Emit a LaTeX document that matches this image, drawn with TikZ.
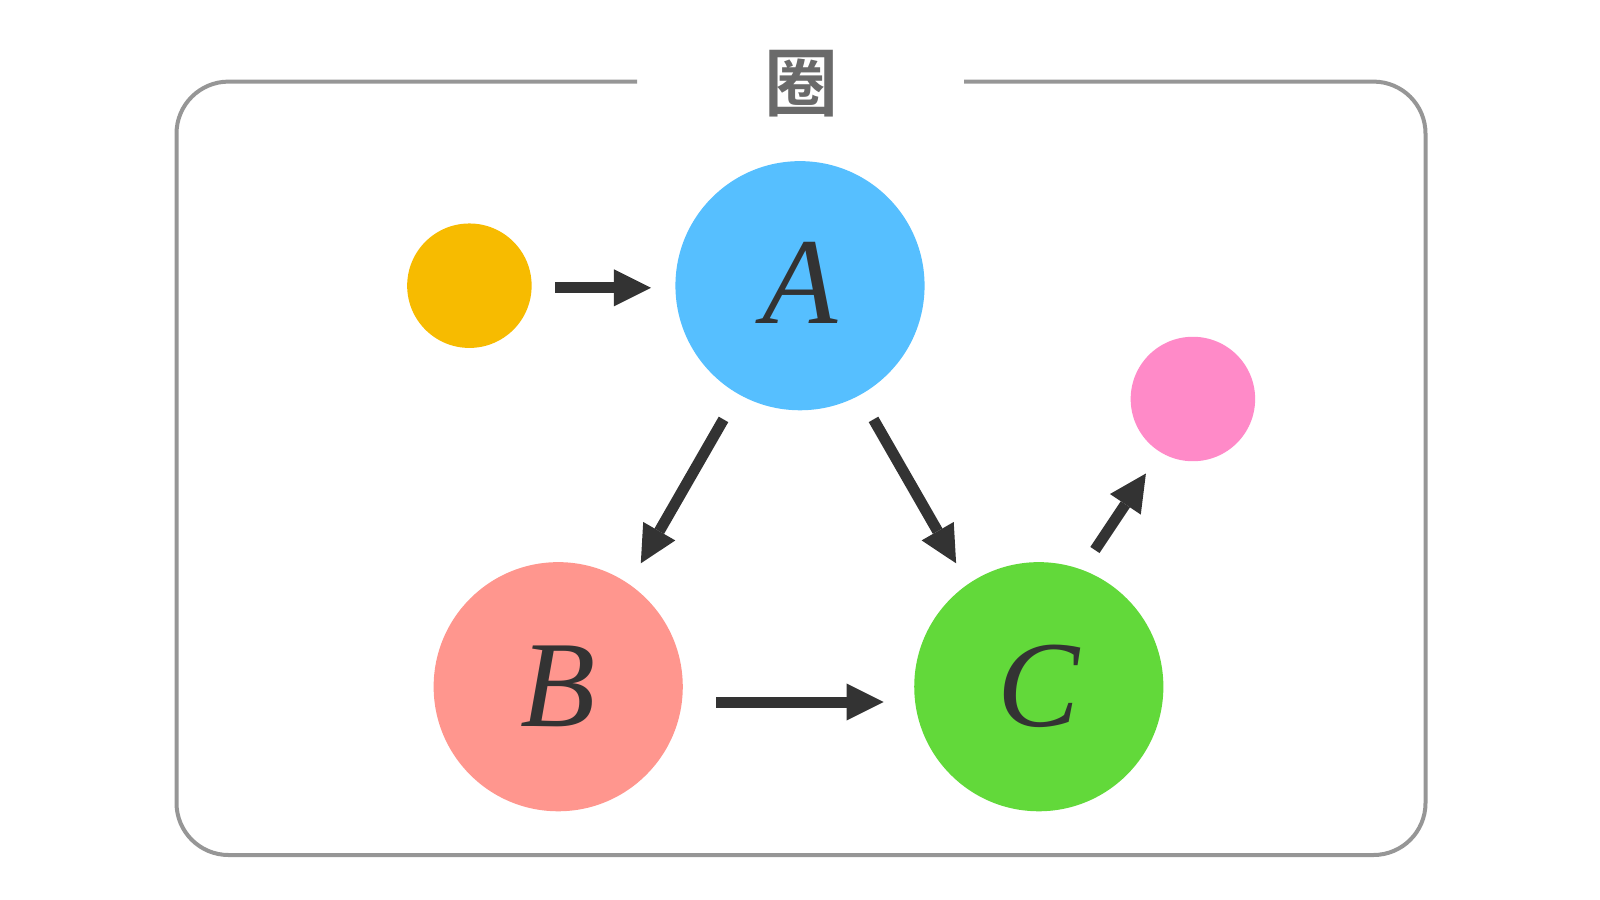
\documentclass[tikz,border=0pt]{standalone}
\usepackage{fontspec}
\setmainfont{Liberation Serif}[ItalicFont={Liberation Serif Italic}]
\newfontfamily\cjk{Noto Sans CJK SC}[BoldFont={* Bold}]
\usetikzlibrary{arrows.meta,calc}
\definecolor{cyellow}{HTML}{F7BB00}
\definecolor{cblue}{HTML}{56BFFF}
\definecolor{cpink}{HTML}{FF8AC8}
\definecolor{csalmon}{HTML}{FF968E}
\definecolor{cgreen}{HTML}{62D93A}
\definecolor{cdark}{HTML}{333333}
\definecolor{cframe}{HTML}{969696}
\definecolor{ctitle}{HTML}{6A6A6A}
\tikzset{
  bigobj/.style={circle, inner sep=0pt, minimum size=2.49cm, text=cdark,
    font=\fontsize{35}{35}\selectfont\itshape},
  smallobj/.style={circle, inner sep=0pt, minimum size=1.244cm},
  morph/.style={draw=cdark, line width=0.11cm,
    -{Triangle[length=0.37cm, width=0.37cm, line width=0pt]}},
  framebox/.style={draw=cframe, line width=0.04cm, rounded corners=0.52cm},
}
\begin{document}
\begin{tikzpicture}[x=0.01cm, y=-0.01cm]
\useasboundingbox (0,0) rectangle (1600,900);
% frame
\draw[framebox] (637,81.6) -- (176.5,81.6) -- (176.5,855) -- (1425.5,855) -- (1425.5,81.6) -- (964,81.6);
\node[text=ctitle, font=\cjk\bfseries\fontsize{21}{21}\selectfont] (title) at (801,84) {圈};
% objects
\node[smallobj, fill=cyellow] (Y) at (469.4,285.7) {};
\node[bigobj, fill=cblue] (A) at (800,285.7) {\raisebox{0.05cm}{A}};
\node[smallobj, fill=cpink] (P) at (1192.9,399) {};
\node[bigobj, fill=csalmon] (B) at (558.2,686.7) {B};
\node[bigobj, fill=cgreen] (C) at (1038.8,686.7) {C};
% arrow endpoints
\coordinate (ys) at (555,287.8);
\coordinate (ae1) at (651,287.8);
\coordinate (ab1) at (723.5,419.4);
\coordinate (ab2) at (640.8,563.3);
\coordinate (ac1) at (873.5,419.4);
\coordinate (ac2) at (956.1,563.3);
\coordinate (bc1) at (716.3,702);
\coordinate (bc2) at (883.7,702);
\coordinate (cp1) at (1094.9,550);
\coordinate (cp2) at (1145.9,473.5);
% morphisms
\draw[morph] (ys) -- (ae1);
\draw[morph] (ab1) -- (ab2);
\draw[morph] (ac1) -- (ac2);
\draw[morph] (bc1) -- (bc2);
\draw[morph] (cp1) -- (cp2);
\end{tikzpicture}
\end{document}
